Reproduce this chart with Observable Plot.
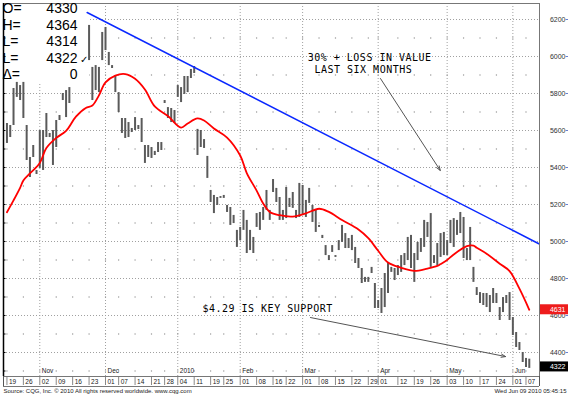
<!DOCTYPE html>
<html><head><meta charset="utf-8">
<script src="https://cdn.jsdelivr.net/npm/d3@7"></script>
<script src="https://cdn.jsdelivr.net/npm/@observablehq/plot@0.6"></script>
<style>body{margin:0;background:#fff}</style>
</head><body><div id="chart"></div>
<script>
// ---- data (trading-day index 0 = 19 Oct 2009 ... 159 = 8 Jun 2010) ----
const high = [5638,5627,5827,5860,5843,5860,5627,5454,5519,5384,
5600,5600,5692,5584,5600,5654,5681,5800,5816,5832,
null,null,null,null,null,6168,5941,5951,5941,6130,
6157,6022,5951,5897,5805,5665,5665,5643,5611,5670,
5627,5665,5519,5519,5508,5487,5535,5535,5762,5724,
5719,5708,5843,5832,5892,5892,5930,5946,5606,5600,
5551,5460,5276,5249,5238,5243,5249,5195,5184,5141,
5060,5076,5168,5114,5060,5022,5151,5157,5184,5276,
5168,5335,5287,5238,5168,5292,5233,5265,5168,5314,
5303,5222,5287,5195,5168,5087,5033,4978,4924,4978,
4924,5005,5087,5043,5016,5033,4968,4908,4854,4806,
4806,4860,4773,4681,4746,4827,4881,4860,4854,4870,
4924,4935,5022,5033,4935,4995,5016,5114,5103,5151,
4924,4989,5043,5049,5005,5114,5124,5114,5157,5130,
4962,5076,4860,4751,4724,4719,4719,4708,4746,4719,
4643,4697,4708,4724,4589,4508,4454,4400,4368,4364];
const low = [5530,5562,5627,5779,5762,5665,5438,5346,5454,5362,
5395,5384,5562,5562,5411,5508,5654,5762,5670,5746,
null,null,null,null,null,5978,5762,5816,5805,5978,
6032,5951,5935,5805,5697,5584,5557,5562,5589,5600,
5605,5535,5422,5454,5449,5465,5481,5492,5746,5665,
5643,5638,5779,5751,5795,5805,5881,5908,5465,5508,
5503,5341,5211,5151,5195,5233,5233,5157,5087,5097,
4968,5005,5060,4935,4951,4935,5076,5060,5114,5168,
5114,5265,5211,5114,5114,5124,5184,5179,5124,5130,
5141,5130,5206,5103,5049,5076,5016,4924,4897,4941,
4914,4951,4995,4962,4962,4951,4881,4854,4773,4779,
4779,4827,4638,4638,4611,4643,4719,4833,4789,4816,
4833,4870,4897,4854,4779,4897,4941,4968,5022,4860,
4881,4870,4914,4924,4924,4989,4968,5033,5043,4908,
4897,4897,4779,4708,4665,4654,4643,4616,4665,4665,
4573,4616,4665,4573,4492,4427,4411,4346,4319,4314];

const maIdx = [0,2,4,5,7,10,12,15,18,21,24,26,28,30,33,36,39,42,45,49,53,55,58,60,63,67,71,73,76,78,80,83,87,91,95,98,102,107,110,113,116,120,124,128,131,132,134,136,140,142,143,146,150,153,156,159];
const maVal = [5158,5222,5290,5330,5368,5425,5505,5560,5598,5675,5722,5735,5790,5860,5897,5905,5880,5822,5730,5678,5616,5638,5665,5654,5611,5562,5465,5370,5275,5205,5160,5142,5135,5152,5177,5160,5116,5065,5018,4950,4886,4858,4841,4854,4868,4878,4900,4930,4975,4978,4966,4934,4880,4840,4745,4631];

const trendIdx = [24.4, 161.9];
const trendVal = [6238, 4988];

const weekIdx = [0,5,10,15,20,25,30,34,39,44,48,52,57,62,66,71,76,81,85,90,95,100,105,110,113,119,124,129,134,139,144,149,154,158];
const weekLabels = ["19","26","02","09","16","23","01","07","14","21","28","04","11","19","25","01","08","16","22","01","08","15","22","29","01","12","19","26","03","10","17","24","01","07"];
const monthIdx = [10,30,52,71,90,113,134,154];
const monthLabels = ["Nov","Dec","2010","Feb","Mar","Apr","May","Jun"];
const priceTicks = [4400,4600,4800,5000,5200,5400,5600,5800,6000,6200];
const minorLevels = [4300,4500,4700,4900,5100,5300,5500,5700,5900,6100];
const ohlcLabels = ["O=","H=","L=","L=","Δ="];
const ohlcValues = ["4330","4364","4314","4322","0"];
const lastClose = 4322, lastMA = 4631;
const note1 = ["30% + LOSS IN VALUE", "LAST SIX MONTHS"];
const note2 = "$4.29 IS KEY SUPPORT";
const sourceText = "Source: CQG, Inc. © 2010 All rights reserved worldwide. www.cqg.com";
const stampText = "Wed Jun 09 2010 05:45:15";

// ---- layout ----
const W = 568, H = 397, mL = 3, mR = 29, mT = 3, mB = 21;
const xDom = [-1.05, 162.11], yDom = [4270.3, 6286.5];
const pxX = px => xDom[0] + (px - mL) * (xDom[1] - xDom[0]) / (W - mL - mR);
const pxY = py => yDom[1] - (py - mT) * (yDom[1] - yDom[0]) / (H - mT - mB);
const unitsPerPx = (yDom[1] - yDom[0]) / (H - mT - mB);

const bars = high.map((h, i) => h == null ? null : {i, high: h, low: low[i]}).filter(Boolean);
const ma = maIdx.map((i, k) => ({i, v: maVal[k]}));
const trend = trendIdx.map((i, k) => ({i, v: trendVal[k]}));
const minor = [];
for (const w of weekIdx) for (const l of minorLevels) minor.push({i: w, v: l});

const mono = "DejaVu Sans Mono, monospace";
const small = {fontSize: 6.5, fill: "#222"};
const noteStyle = {textAnchor: "start", fontFamily: mono, fontSize: 10, fill: "#000", text: d => d};

const marks = [
  Plot.ruleY(priceTicks, {y: d => d, stroke: "#a0a0a0", strokeDasharray: "1,2"}),
  Plot.ruleX(monthIdx, {x: d => d, stroke: "#a0a0a0", strokeDasharray: "1,2"}),
  Plot.dot(minor, {x: "i", y: "v", r: 0.7, fill: "#999", stroke: null}),
  Plot.rect([0], {x1: pxX(3), x2: pxX(89), y1: pxY(3), y2: pxY(82), fill: "white"}),
  Plot.ruleX(bars, {x: "i", y1: "low", y2: "high", stroke: "#5a5a5a", strokeWidth: 2}),
  Plot.line(ma, {x: "i", y: "v", stroke: "#ff0000", strokeWidth: 1.8, curve: "catmull-rom"}),
  Plot.line(trend, {x: "i", y: "v", stroke: "#0a28ff", strokeWidth: 1.5}),
  Plot.arrow([0], {x1: 113.7, y1: 5881, x2: 131.9, y2: 5384, stroke: "#555", strokeWidth: 1, headLength: 7, headAngle: 40}),
  Plot.arrow([0], {x1: 92.4, y1: 4589, x2: 151.8, y2: 4378, stroke: "#555", strokeWidth: 1, headLength: 7, headAngle: 40}),
  Plot.text([note1[0]], {x: 91.55, y: pxY(57.6), ...noteStyle}),
  Plot.text([note1[1]], {x: 93.6, y: pxY(69.4), ...noteStyle}),
  Plot.text([note2], {x: 59.5, y: 4638, ...noteStyle}),
  // month labels inside plot bottom
  Plot.text(monthIdx, {x: d => d, y: 4300, text: (d, k) => monthLabels[k], dx: 2, textAnchor: "start", ...small}),
  // frame
  Plot.frame({stroke: "#777"}),
  Plot.ruleX([xDom[0]], {stroke: "#000", strokeWidth: 1.5}),
  Plot.ruleY(minorLevels.concat(priceTicks), {y: d => d, x1: xDom[0], x2: pxX(5.5), stroke: "#000"}),
  // right price axis
  Plot.text(priceTicks, {y: d => d, text: d => String(d), frameAnchor: "right", dx: 26, textAnchor: "end", fontSize: 7, fill: "#333"}),
  Plot.ruleY(priceTicks, {y: d => d, x1: pxX(565.5), x2: pxX(568), stroke: "#6a7fcf"}),
  Plot.rect([lastMA], {x1: pxX(540), x2: pxX(568), y1: d => d - 5 * unitsPerPx, y2: d => d + 5 * unitsPerPx, fill: "#ee1c1c"}),
  Plot.text([lastMA], {y: d => d, text: d => String(d), frameAnchor: "right", dx: 26, textAnchor: "end", fontSize: 7, fill: "#fff"}),
  Plot.rect([lastClose], {x1: pxX(540), x2: pxX(568), y1: d => d - 5 * unitsPerPx, y2: d => d + 5 * unitsPerPx, fill: "#000"}),
  Plot.text([lastClose], {y: d => d, text: d => String(d), frameAnchor: "right", dx: 26, textAnchor: "end", fontSize: 7, fill: "#fff"}),
  // date row
  Plot.ruleY([pxY(386)], {y: d => d, x1: xDom[0], x2: xDom[1], stroke: "#777"}),
  Plot.ruleX([xDom[0], xDom[1]], {x: d => d, y1: pxY(376), y2: pxY(386), stroke: "#555"}),
  Plot.ruleX(weekIdx, {x: d => d, y1: pxY(377), y2: pxY(385), stroke: "#888"}),
  Plot.text(weekIdx, {x: d => d, y: pxY(381.5), text: (d, k) => weekLabels[k], dx: 2, textAnchor: "start", ...small}),
  // footer
  Plot.text([sourceText], {frameAnchor: "bottom-left", dy: 16, text: d => d, textAnchor: "start", fontSize: 6, fill: "#222"}),
  Plot.text([stampText], {frameAnchor: "bottom-right", dx: 27, dy: 16, text: d => d, textAnchor: "end", fontSize: 6, fill: "#222"}),
  // OHLC box
  ...ohlcLabels.map((t, k) => Plot.text([t], {frameAnchor: "top-left", dx: -1, dy: k * 16.5, lineAnchor: "top", text: d => d, textAnchor: "start", fontSize: 14, fill: "#000"})),
  ...ohlcValues.map((t, k) => Plot.text([t], {frameAnchor: "top-left", dx: 74, dy: k * 16.5, lineAnchor: "top", text: d => d, textAnchor: "end", fontSize: 14, fill: "#000"})),
  Plot.text(["✓"], {frameAnchor: "top-left", dx: 76, dy: 3 * 16.5 + 3, lineAnchor: "top", text: d => d, textAnchor: "start", fontSize: 10, fill: "#000"})
];

const chart = Plot.plot({
  width: W, height: H,
  marginLeft: mL, marginRight: mR, marginTop: mT, marginBottom: mB,
  x: {type: "linear", domain: xDom, axis: null},
  y: {type: "linear", domain: yDom, axis: null},
  style: {fontFamily: "Liberation Sans, Arial, sans-serif", background: "#fff", overflow: "visible"},
  marks
});
d3.select(chart).selectAll("g[font-family^='DejaVu Sans Mono']").attr("letter-spacing", "0.5px");
document.getElementById("chart").appendChild(chart);
</script>
</body></html>
